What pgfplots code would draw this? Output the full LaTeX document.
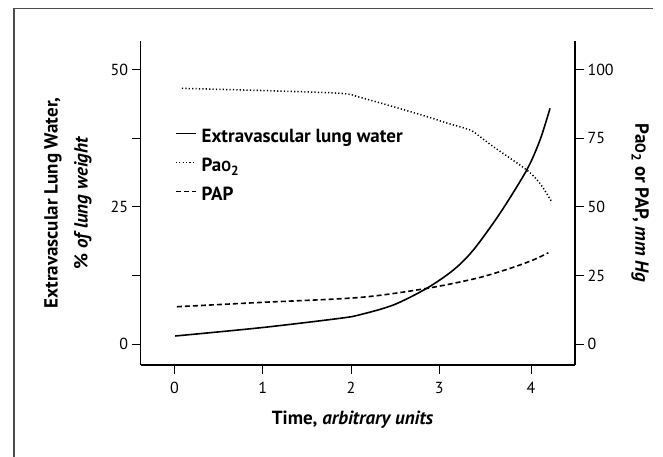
\documentclass[border=0pt]{standalone}
\usepackage{fontspec}
\setmainfont{PT Sans}
\usepackage{pgfplots}
\pgfplotsset{compat=1.18}

\pgfplotsset{
  common/.style={
    at={(140.7pt,91pt)}, anchor=south west,
    scale only axis, width=434.3pt, height=324pt,
    xmin=-0.383, xmax=4.538,
    tick align=outside,
    major tick length=9pt,
    tick style={black, line width=1pt},
    axis line style={black, line width=1.3pt, -},
    ticklabel style={font=\fontsize{16}{18}\selectfont},
    /pgf/number format/assume math mode=true,
    clip=false,
  },
}

\begin{document}
\begin{tikzpicture}
\useasboundingbox (0pt,0pt) rectangle (663pt,456pt);
\draw[line width=1.5pt, black!70] (14pt,-5pt) -- (14pt,447.7pt) -- (652.7pt,447.7pt);

\begin{axis}[
  common,
  ymin=-3.832, ymax=55.29,
  axis x line*=bottom, axis y line*=left,
  xtick={0,1,2,3,4.04}, xticklabels={0,1,2,3,4},
  xticklabel style={yshift=-5pt},
  ytick={0,12.5,25,37.5,50}, yticklabels={0,,25,,50},
  xlabel={Time, \textit{arbitrary units}},
  ylabel={Extravascular Lung Water,\\\%\ \textit{of lung weight}},
  every axis x label/.style={at={(axis description cs:0.5,0)}, anchor=base, yshift=-59.3pt, xshift=-5.3pt, font=\bfseries\fontsize{19}{21}\selectfont},
  every axis y label/.style={at={([xshift=-72.7pt]axis description cs:0,0.5)}, rotate=90, anchor=center, align=center, font=\bfseries\fontsize{19}{30}\selectfont},
]
\addplot[black, line width=1.6pt, smooth, tension=0.5] coordinates {
(0.008,1.46) (0.993,3.0) (1.876,4.69) (2.103,5.35) (2.48,7.12) (2.858,10.16)
(3.16,13.5) (3.386,17.15) (3.688,23.85) (3.991,31.75) (4.141,37.2) (4.255,43.0)
};
\end{axis}

\begin{axis}[
  common,
  ymin=-7.664, ymax=110.58,
  axis x line=none, axis y line*=right,
  ytick={0,25,50,75,100},
  ylabel={Pa{\fontsize{14.5}{14}\selectfont O}\textsubscript{2} or PAP, \textit{mm Hg}},
  every axis y label/.style={at={([xshift=65pt]axis description cs:1,0.5)}, rotate=-90, anchor=center, font=\bfseries\fontsize{19}{21}\selectfont},
  legend cell align=left,
  legend style={draw=none, fill=none, inner sep=0pt, outer sep=0pt,
    at={(axis description cs:0,1)}, anchor=north west, xshift=34.3pt, yshift=-87.5pt,
    font=\bfseries\fontsize{19}{21}\selectfont,
    row sep=10pt, column sep=5pt,
    nodes={inner sep=0pt, text height=14pt, text depth=5pt}},
  legend image code/.code={\draw[#1] (0pt,4.5pt) -- (20pt,4.5pt);},
]
\addlegendimage{black, line width=1.6pt}
\addlegendentry{Extravascular lung water}
\addplot[black, line width=1.5pt, dash pattern=on 1.2pt off 2.2pt, smooth, tension=0.5] coordinates {
(0.084,93.3) (0.993,92.5) (1.876,91.5) (2.103,90.0) (2.48,86.6) (2.858,83.0) (3.1,80.5)
(3.349,78.1) (3.46,75.7) (3.613,72.0) (3.991,63.5) (4.141,58.6) (4.274,51.9)
};
\addlegendentry{Pa{\fontsize{14.5}{14}\selectfont O}\textsubscript{2}}
\addplot[black, line width=1.6pt, dash pattern=on 5pt off 3pt, smooth, tension=0.5] coordinates {
(0.027,13.6) (0.993,15.2) (2.103,17.0) (2.858,20.3) (3.425,24.0) (3.802,27.6)
(4.066,30.7) (4.236,33.3)
};
\addlegendentry{PAP}
\end{axis}
\end{tikzpicture}
\end{document}
